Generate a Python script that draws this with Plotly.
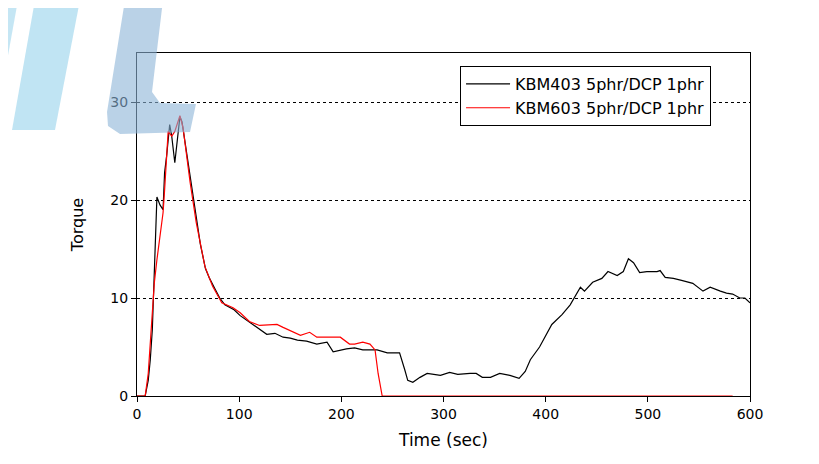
import plotly.graph_objects as go

# Torque curves
t_403 = [0, 8, 11, 13, 15, 16, 17.6, 18.6, 19.5, 22.5, 25.5, 27, 29, 32, 34, 37, 39, 42, 44, 47,
         52, 58, 62, 67, 71, 76, 81, 86, 95, 101, 109, 118, 127, 135, 143, 150, 157, 166, 176, 186,
         192, 205, 213, 221, 235, 245, 257, 262, 265, 270, 277, 284, 297, 306, 314, 326, 332, 338,
         346, 355, 365, 374, 380, 385, 394, 406, 416, 424, 434, 438, 446, 455, 461, 470, 476, 481,
         486, 492, 499, 509, 512, 517, 525, 533, 544, 554, 561, 571, 577, 583, 590, 595, 600]
torque_403 = [0, 0, 1.6, 3.7, 6.8, 9.8, 13.6, 18, 20.3, 19.5, 19, 22.8, 24.5, 27.7, 26.5, 23.8, 25.9, 28.5, 28.0, 25.9,
              22, 18, 15.5, 13, 12, 11, 10, 9.3, 8.8, 8.2, 7.6, 7.0, 6.3, 6.4, 6.0, 5.9, 5.7, 5.6, 5.3, 5.5,
              4.5, 4.8, 4.9, 4.7, 4.7, 4.4, 4.4, 2.7, 1.6, 1.4, 1.9, 2.3, 2.1, 2.4, 2.2, 2.3, 2.3, 1.9,
              1.9, 2.3, 2.1, 1.8, 2.5, 3.7, 5.0, 7.3, 8.3, 9.3, 11.1, 10.7, 11.6, 12.0, 12.7, 12.3, 12.7, 14.0,
              13.6, 12.6, 12.7, 12.7, 12.8, 12.1, 12.0, 11.8, 11.5, 10.7, 11.1, 10.7, 10.5, 10.4, 10.0, 10.0, 9.5]

t_603 = [0, 8, 11, 13, 15, 17, 19.5, 22.5, 25.5, 27, 29, 30.5, 34, 37, 42, 45, 52, 58, 66.5, 74,
         83, 94, 101, 110, 120, 137, 143, 160, 169, 176, 186, 199, 208, 213, 221, 228, 233, 236, 240, 583]
torque_603 = [0, 0, 2.3, 5.4, 9.5, 11.6, 13.9, 16.3, 18.7, 21, 24.5, 27, 26.5, 27, 28.6, 27.4, 21.8, 17.7, 13.2, 11.2,
              9.5, 9.0, 8.5, 7.6, 7.2, 7.3, 7.0, 6.2, 6.5, 6.0, 6.0, 6.0, 5.3, 5.3, 5.5, 5.3, 4.7, 2.3, 0, 0]

names = ["KBM403 5phr/DCP 1phr", "KBM603 5phr/DCP 1phr"]
x_ticks = [0, 100, 200, 300, 400, 500, 600]
y_ticks = [0, 10, 20, 30]

fig = go.Figure()
fig.add_trace(go.Scatter(x=t_403, y=torque_403, mode="lines", name=names[0],
                         line=dict(color="black", width=1.2)))
fig.add_trace(go.Scatter(x=t_603, y=torque_603, mode="lines", name=names[1],
                         line=dict(color="#ff0000", width=1.2)))

# watermark in the top-left corner (screen pixel outline -> paper coords)
X0, W, Y0, H = 137, 613, 396, 343


def wm_path(pts):
    out = []
    for cmd, px, py in pts:
        out.append(f"{cmd} {(px - X0) / W:.4f},{(Y0 - py) / H:.4f}")
    return " ".join(out) + " Z"


band_a = [("M", 0, 0), ("L", 18, 0), ("L", 0, 100)]
band_b = [("M", 35, 0), ("L", 80, 0), ("L", 55, 130), ("L", 12, 130)]
shape_l = [("M", 125, 0), ("L", 163, 0), ("L", 152, 92), ("L", 160, 103), ("L", 196, 104),
           ("L", 190, 132), ("L", 120, 134), ("L", 108, 126), ("L", 107, 112)]

shapes = []
for pts, col in [(band_a, "rgba(150,210,235,0.55)"), (band_b, "rgba(150,210,235,0.6)"),
                 (shape_l, "rgba(140,180,215,0.6)")]:
    shapes.append(dict(type="path", xref="paper", yref="paper", path=wm_path(pts),
                       fillcolor=col, line=dict(width=0), layer="above"))

# page body has an 8px margin, so the margins here are 8px less at left/top
fig.update_layout(
    width=819, height=464,
    margin=dict(l=129, r=77, t=45, b=76),
    paper_bgcolor="white", plot_bgcolor="white",
    font=dict(family="DejaVu Sans", size=14, color="black"),
    shapes=shapes,
    legend=dict(x=0.527, y=0.962, xanchor="left", yanchor="top",
                bordercolor="black", borderwidth=1, bgcolor="white",
                font=dict(size=16), tracegroupgap=0, itemwidth=44),
    xaxis=dict(range=[0, 600], tickvals=x_ticks, showgrid=False, zeroline=False,
               showline=True, linecolor="black", linewidth=1.3, mirror=True,
               ticks="outside", ticklen=5, tickcolor="black",
               title=dict(text="Time (sec)", font=dict(size=17), standoff=13),
               tickfont=dict(size=14)),
    yaxis=dict(range=[0, 35], tickvals=y_ticks, showgrid=True, gridcolor="black",
               griddash="dot", gridwidth=1, zeroline=False,
               showline=True, linecolor="black", linewidth=1.3, mirror=True,
               ticks="outside", ticklen=5, tickcolor="black",
               title=dict(text="Torque", font=dict(size=16), standoff=22),
               tickfont=dict(size=14)),
)

fig.write_html("out.html")
